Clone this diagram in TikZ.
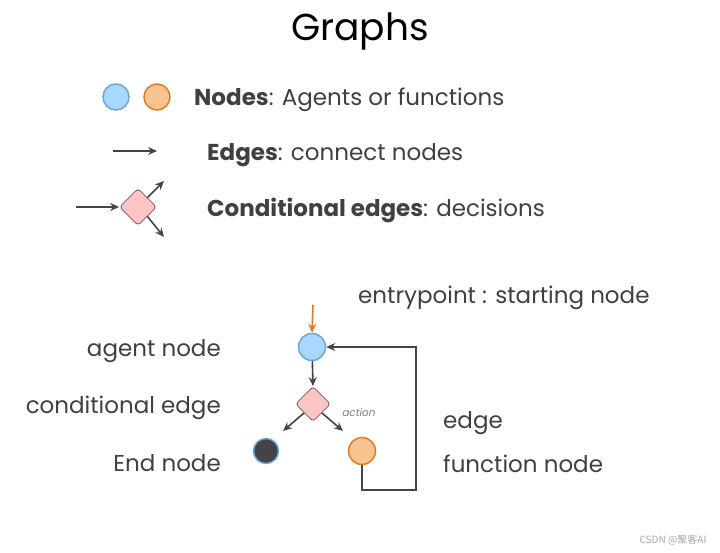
\documentclass[tikz,border=0pt]{standalone}
\usepackage{fontspec}
\setmainfont{Poppins}
\newfontfamily\cjkfont{Noto Sans CJK SC}
\usetikzlibrary{arrows.meta,positioning,shapes.geometric}
\definecolor{agentfill}{HTML}{A8D8FF}
\definecolor{agentline}{HTML}{6AA6D6}
\definecolor{funcfill}{HTML}{F8C391}
\definecolor{funcline}{HTML}{E07B28}
\definecolor{condfill}{HTML}{FFC4C4}
\definecolor{condline}{HTML}{7A5A5A}
\definecolor{endfill}{HTML}{444444}
\definecolor{edgecol}{HTML}{444444}
\definecolor{txtcol}{HTML}{404040}
\tikzset{
  agent/.style={circle,draw=agentline,fill=agentfill,line width=1.5pt,
    minimum size=26pt,inner sep=0pt},
  func/.style={circle,draw=funcline,fill=funcfill,line width=1.5pt,
    minimum size=26pt,inner sep=0pt},
  endnd/.style={circle,draw=agentline,fill=endfill,line width=1.5pt,
    minimum size=25pt,inner sep=0pt},
  cond/.style={diamond,draw=condline,fill=condfill,line width=0.8pt,
    rounded corners=3pt,minimum size=36pt,inner sep=0pt},
  arr/.style={draw=edgecol,line width=1.6pt,-{Stealth[length=9pt,width=8pt,inset=3pt]}},
  lbl/.style={text=txtcol,font=\fontsize{23}{27}\selectfont,inner sep=0pt}
}
\begin{document}
\begin{tikzpicture}[x=1pt,y=-1pt]
\useasboundingbox[fill=white] (0,0) rectangle (720,553);

% title
\node[text=black,font=\fontsize{37.5}{42}\selectfont] (title) at (360,32) {Graphs};

% legend
\node[agent] (lgagent) at (116,97) {};
\node[func]  (lgfunc)  at (157,97) {};
\node[lbl,anchor=west] (lgnodes) at (194,100) {\textbf{Nodes}: Agents or functions};

\coordinate (lgea) at (113,151);
\coordinate (lgeb) at (157,151);
\draw[arr] (lgea) -- (lgeb);
\node[lbl,anchor=west] (lgedges) at (207,155) {\textbf{Edges}: connect nodes};

\node[cond,minimum size=37pt] (lgcond) at (138,207) {};
\coordinate (lgin) at (76,207);
\coordinate (lgup) at (164,181);
\coordinate (lgdn) at (164,237);
\draw[arr] (lgin) -- (lgcond.west);
\draw[arr] (lgcond.north east) -- (lgup);
\draw[arr] (lgcond.south east) -- (lgdn);
\node[lbl,anchor=west] (lgcondtxt) at (207,210) {\textbf{Conditional edges}: decisions};

% example graph
\node[lbl,anchor=west] (entrytxt) at (358,298) {entrypoint : starting node};
\coordinate (entry) at (313,305);
\node[agent,minimum size=27pt] (agent) at (312,347) {};
\node[cond,minimum size=35pt] (decide) at (313,404) {};
\node[endnd] (endn) at (266,451) {};
\node[func,minimum size=27pt] (funcn) at (362,451) {};

\draw[arr,draw=funcline] (entry) -- (agent.north);
\draw[arr] (agent) -- (decide.north);
\draw[arr] (decide.south west) -- ++(-21,18);
\draw[arr] (decide.south east) -- ++(21,18);
\node[text=gray,font=\itshape\fontsize{10.5}{12}\selectfont] (actiontxt) at (359,413) {action};

\coordinate (loopa) at (362,490);
\coordinate (loopb) at (416,490);
\coordinate (loopc) at (416,347);
\draw[arr,line width=1.4pt] (funcn.south) -- (loopa) -- (loopb) -- (loopc) -- (agent.east);

\node[lbl,anchor=east] (agenttxt) at (221,351) {agent node};
\node[lbl,anchor=east] (condtxt)  at (221,408) {conditional edge};
\node[lbl,anchor=east] (endtxt)   at (221,463) {End node};
\node[lbl,anchor=west] (edgetxt)  at (443,423) {edge};
\node[lbl,anchor=west] (functxt)  at (443,464) {function node};

% watermark
\node[text=gray!70,font=\cjkfont\fontsize{10}{12}\selectfont,anchor=east] (wm) at (710,540) {CSDN @聚客AI};
\end{tikzpicture}
\end{document}
